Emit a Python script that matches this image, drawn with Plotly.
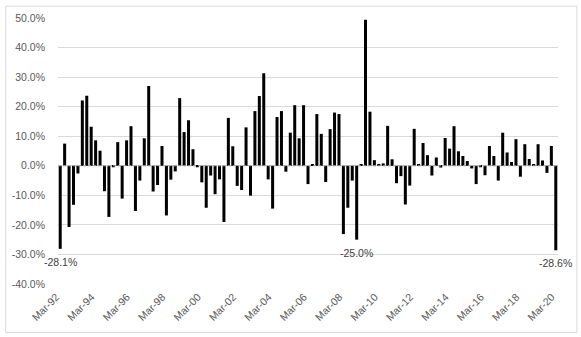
import pandas as pd
import plotly.graph_objects as go

# Quarterly returns (%), Mar-92 .. Mar-20
quarters = [p.strftime("%b-%y") for p in pd.period_range("1992Q1", "2020Q1", freq="Q").to_timestamp(how="end")]
returns = [
    -28.1, 7.5, -20.7, -13.2, -2.6, 22.1, 23.7, 13.2, 8.6, 5.1,
    -8.6, -17.3, -0.5, 8.0, -11.1, 8.6, 13.4, -15.3, -5.0, 9.3,
    27.0, -8.7, -6.5, 6.7, -16.8, -4.7, -1.9, 22.9, 11.4, 15.4,
    5.6, -0.5, -5.6, -14.2, -3.3, -9.6, -4.6, -19.0, 16.2, 6.6,
    -6.8, -8.2, 13.0, -10.1, 18.5, 23.6, 31.3, -4.6, -14.5, 16.5,
    18.5, -2.0, 11.2, 20.5, 9.3, 20.5, -6.2, 0.3, 17.5, 10.8,
    -5.5, 12.4, 18.0, 17.5, -23.1, -14.2, -5.0, -25.0, 0.6, 49.4,
    18.3, 1.9, 0.3, 0.8, 13.5, 2.2, -5.9, -3.5, -13.1, -6.7,
    12.5, 0.3, 7.7, 3.6, -3.3, 2.8, -0.6, 9.4, 5.8, 13.4,
    4.9, 3.3, 1.6, -0.9, -6.2, -0.5, -3.2, 6.7, 3.3, -5.0,
    11.2, 4.5, 1.3, 9.0, -3.7, 7.3, 2.3, 0.4, 7.3, 1.8,
    -2.4, 6.7, -28.6,
]
labelled_values = [-28.1, -25.0, -28.6]
x_tick_labels = quarters[::8]
y_ticks = [-40, -30, -20, -10, 0, 10, 20, 30, 40, 50]
y_tick_labels = [f"{v:.1f}%" for v in y_ticks]

FONT = "Liberation Sans"
GREY_TXT = "#595959"

fig = go.Figure()
fig.add_trace(go.Bar(x=quarters, y=returns, marker=dict(color="#000000", line=dict(width=0)),
                     hoverinfo="x+y"))

for q, v in zip(quarters, returns):
    if v in labelled_values:
        fig.add_annotation(x=q, y=v, text=f"{v:.1f}%", showarrow=False, yshift=-13,
                           font=dict(family=FONT, size=10.5, color="#404040"))

# zero axis line (dashed grey, drawn over the bars)
fig.add_shape(type="line", xref="paper", x0=0, x1=1, yref="y", y0=0, y1=0,
              line=dict(color="#a6a6a6", width=1, dash="3px,2px"), layer="above")
# chart border
fig.add_shape(type="rect", xref="paper", yref="paper",
              x0=-0.1045, x1=1.0378, y0=-0.182, y1=1.0446,
              line=dict(color="#d9d9d9", width=1), layer="below")

fig.update_layout(
    width=581, height=337,
    margin=dict(l=55.5, r=23, t=15, b=53),
    paper_bgcolor="white", plot_bgcolor="white",
    bargap=0.32, showlegend=False,
    font=dict(family=FONT, size=10.5, color=GREY_TXT),
    xaxis=dict(type="category", range=[-0.5, len(quarters) - 0.5],
               tickmode="array", tickvals=x_tick_labels, ticktext=x_tick_labels,
               tickangle=-45, showgrid=False, showline=False, ticks="",
               ticklabelstandoff=4, ticklabelshift=-4,
               tickfont=dict(family=FONT, size=10.5, color=GREY_TXT)),
    yaxis=dict(range=[-40, 50], tickmode="array", tickvals=y_ticks, ticktext=y_tick_labels,
               showgrid=True, gridcolor="#d9d9d9", gridwidth=1, zeroline=False,
               showline=False, ticks="", ticklabelstandoff=12,
               tickfont=dict(family=FONT, size=10.5, color=GREY_TXT)),
)

fig.write_html("out.html")
